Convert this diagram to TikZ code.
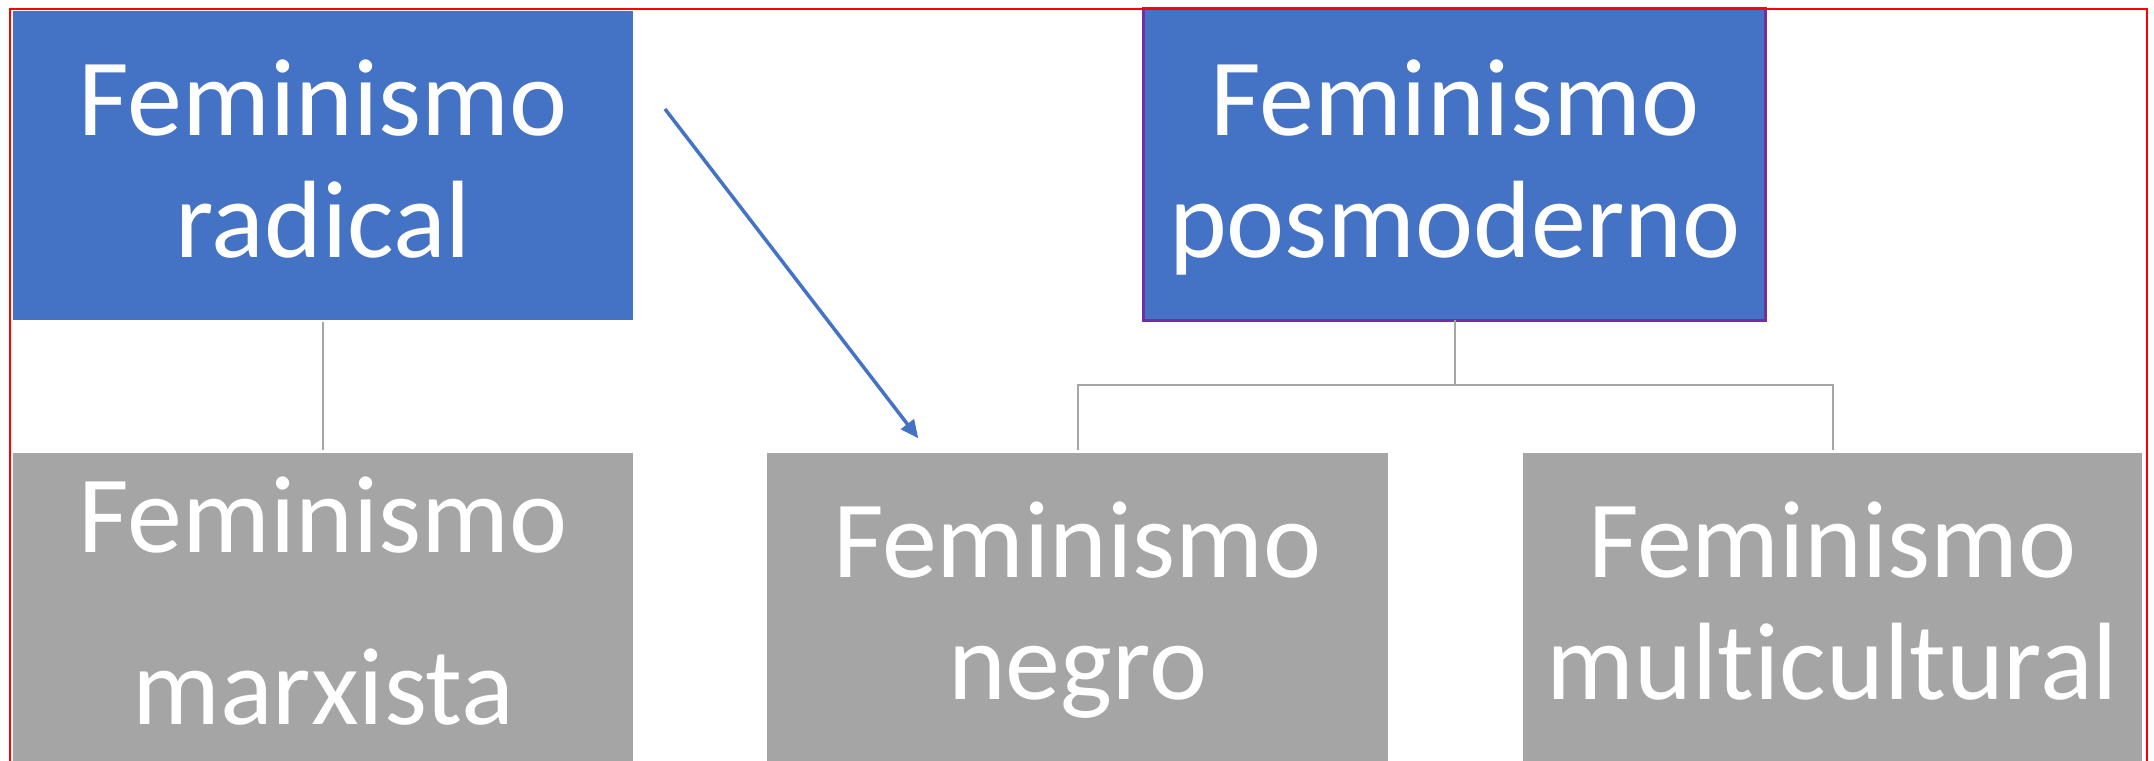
\documentclass[tikz,border=0pt]{standalone}
\usepackage{fontspec}
\setmainfont{Carlito}[Ligatures=NoCommon]
\usetikzlibrary{arrows.meta}
\definecolor{officeblue}{HTML}{4472C4}
\definecolor{officegray}{HTML}{A5A5A5}
\definecolor{connectorgray}{HTML}{A5A5A5}
\definecolor{borderpurple}{HTML}{7030A0}
\tikzset{
  boxshape/.style={rectangle, inner sep=0pt, outer sep=0pt, minimum width=620pt, minimum height=309pt},
  bluebox/.style={boxshape, fill=officeblue},
  greybox/.style={boxshape, fill=officegray},
  lbl/.style={text=white, align=center, inner sep=0pt, outer sep=0pt, anchor=base,
    font=\fontsize{110}{122}\selectfont},
  conn/.style={draw=connectorgray, line width=2pt},
  bluearrow/.style={draw=officeblue, line width=3.5pt, -{Triangle[length=18pt,width=16pt]}},
}
\begin{document}
\begin{tikzpicture}[x=1pt,y=-1pt]
\useasboundingbox (0,0) rectangle (2154,760);
% boxes
\node[bluebox] (rad) at (323.25,165.1) {};
\node[bluebox, minimum width=622pt, minimum height=312pt, draw=borderpurple, line width=2.5pt] (pos) at (1454.7,164.3) {};
\node[greybox] (marx) at (323.25,607.5) {};
\node[greybox, minimum width=621pt] (negro) at (1077.5,607.5) {};
\node[greybox, minimum width=619pt] (multi) at (1832.5,607.5) {};
% texts (anchor base = baseline of the last line)
\node[lbl] (radt) at (323.25,257) {Feminismo\\radical};
\node[lbl] (post) at (1454.7,257) {Feminismo\\posmoderno};
\node[lbl, font=\fontsize{110}{172}\selectfont] (marxt) at (323.25,724.7) {Feminismo\\marxista};
\node[lbl] (negrot) at (1077.5,699.5) {Feminismo\\negro};
\node[lbl] (multit) at (1832.5,699.5) {Feminismo\\multicultural};
% connectors
\draw[conn, shorten <=2.5pt, shorten >=3pt] (rad.south) -- (marx.north);
\draw[conn] (pos.south) -- ++(0,65) coordinate (bar);
\draw[conn, shorten >=3pt] (bar) -| (negro.north);
\draw[conn, shorten >=3pt] (bar) -| (multi.north);
% arrow
\coordinate (arrS) at (665,109);
\coordinate (arrE) at (918.3,438.3);
\draw[bluearrow] (arrS) -- (arrE);
% red frame
\draw[red, line width=2pt] (10,9) rectangle (2147,790);
\end{tikzpicture}
\end{document}
